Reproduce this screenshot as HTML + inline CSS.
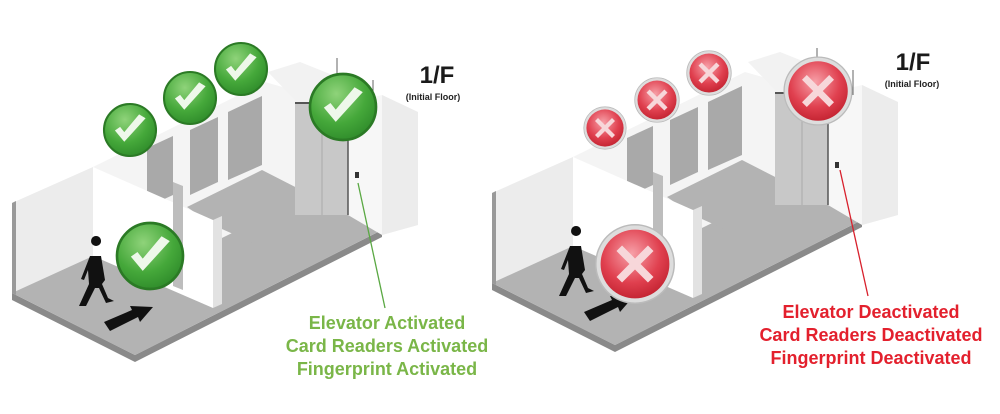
<!DOCTYPE html>
<html><head><meta charset="utf-8"><style>
html,body{margin:0;padding:0;background:#fff;}
svg{display:block}
text{font-family:"Liberation Sans",sans-serif;font-weight:bold}
</style></head><body>
<svg width="1000" height="414" viewBox="0 0 1000 414" xmlns="http://www.w3.org/2000/svg">
<defs>
<radialGradient id="gg" cx="0.4" cy="0.3" r="0.75">
<stop offset="0" stop-color="#8fd37a"/><stop offset="0.6" stop-color="#45a83a"/><stop offset="1" stop-color="#2e8a2a"/></radialGradient>
<radialGradient id="rg" cx="0.45" cy="0.35" r="0.7">
<stop offset="0" stop-color="#f7a0a8"/><stop offset="0.6" stop-color="#e0404f"/><stop offset="1" stop-color="#c0202e"/></radialGradient>
<g id="scene">
 <polygon points="12,293 135,355 382,230 382,237 135,362 12,300" fill="#8a8a8a"/>
 <polygon points="12,293 135,355 382,230 300,190 180,200 12,215" fill="#b3b3b3"/>
 <polygon points="93,167 265,82 300,92 300,200 187,255 93,210" fill="#f4f4f4"/>
 <polygon points="147,148 173,136 173,195 147,207" fill="#a9a9a9"/>
 <polygon points="190,130 218,117 218,182 190,195" fill="#a9a9a9"/>
 <polygon points="228,112 262,96 262,165 228,180" fill="#a9a9a9"/>
 <polygon points="187,207 262,170 350,215 280,255 213,225" fill="#b3b3b3"/>
 <polygon points="12,203 93,167 93,256 12,293" fill="#ececec"/>
 <polygon points="12,203 16,201 16,295 12,293" fill="#999"/>
 <polygon points="93,167 213,220 213,308 93,256" fill="#fff"/>
 <polygon points="213,220 222,216 222,304 213,308" fill="#e2e2e2"/>
 <polygon points="173,182 183,186 183,290 173,286" fill="#bdbdbd"/>
 <polygon points="268,72 300,62 345,80 345,215 295,215 295,100" fill="#f2f2f2"/>
 <polygon points="295,103 348,103 348,215 295,215" fill="#c8c8c8"/>
 <line x1="322" y1="103" x2="322" y2="215" stroke="#aaa"/>
 <line x1="295" y1="103" x2="348" y2="103" stroke="#555" stroke-width="2"/>
 <polygon points="348,103 382,95 418,112 418,225 382,235 348,215" fill="#f7f7f7"/>
 <polygon points="382,95 418,112 418,225 382,235" fill="#ececec"/>
 <line x1="348" y1="103" x2="348" y2="215" stroke="#555" stroke-width="1.5"/>
 <line x1="337" y1="58" x2="337" y2="78" stroke="#666"/>
 <line x1="373" y1="80" x2="373" y2="105" stroke="#666"/>
 <rect x="355" y="172" width="4" height="6" fill="#333"/>
 <path d="M96,246 a5,5 0 1,1 0.1,0 M90,256 l11,0 l4,24 l-3,4 l6,14 l6,3 l-8,2 l-7,-15 l-4,0 l-9,18 l-7,0 l10,-22 l-1,-14 l-4,10 l-3,-1 z" fill="#111"/>
 <polygon points="104,322 132,310 130,306 153,307 140,322 138,317 110,331" fill="#111"/>
</g>
<g id="chk">
 <circle r="1" fill="url(#gg)" stroke="#2b7a25" stroke-width="0.08"/>
 <path d="M-0.58,0.02 L-0.22,0.45 L0.6,-0.45 L0.35,-0.6 L-0.22,0.08 L-0.38,-0.12 Z" fill="#eef8ea"/>
</g>
<g id="xx">
 <circle r="1.06" fill="#ddd" stroke="#bbb" stroke-width="0.04"/>
 <circle r="0.93" fill="url(#rg)"/>
 <path d="M-0.5,-0.35 L-0.35,-0.5 L0,-0.15 L0.35,-0.5 L0.5,-0.35 L0.15,0 L0.5,0.35 L0.35,0.5 L0,0.15 L-0.35,0.5 L-0.5,0.35 L-0.15,0 Z" fill="#f7d7da"/>
</g>
</defs>

<use href="#scene"/>
<use href="#scene" transform="translate(480,-10)"/>

<use href="#chk" transform="translate(130,130) scale(26)"/>
<use href="#chk" transform="translate(190,98) scale(26)"/>
<use href="#chk" transform="translate(241,69) scale(26)"/>
<use href="#chk" transform="translate(343,107) scale(33)"/>
<use href="#chk" transform="translate(150,256) scale(33)"/>

<use href="#xx" transform="translate(605,128) scale(20)"/>
<use href="#xx" transform="translate(657,100) scale(21)"/>
<use href="#xx" transform="translate(709,73) scale(21)"/>
<use href="#xx" transform="translate(818,91) scale(32)"/>
<use href="#xx" transform="translate(635,264) scale(37)"/>

<line x1="358" y1="183" x2="385" y2="308" stroke="#5aa843" stroke-width="1.3"/>
<line x1="840" y1="170" x2="868" y2="296" stroke="#d8202c" stroke-width="1.3"/>

<text x="437" y="83" font-size="24" text-anchor="middle" fill="#1a1a1a">1/F</text>
<text x="433" y="100" font-size="9" text-anchor="middle" fill="#222">(Initial Floor)</text>
<text x="913" y="70" font-size="24" text-anchor="middle" fill="#1a1a1a">1/F</text>
<text x="912" y="87" font-size="9" text-anchor="middle" fill="#222">(Initial Floor)</text>

<g fill="#7ab648" font-size="18" text-anchor="middle">
<text x="387" y="329">Elevator Activated</text>
<text x="387" y="352">Card Readers Activated</text>
<text x="387" y="375">Fingerprint Activated</text>
</g>
<g fill="#e3202d" font-size="18" text-anchor="middle">
<text x="871" y="318">Elevator Deactivated</text>
<text x="871" y="341">Card Readers Deactivated</text>
<text x="871" y="364">Fingerprint Deactivated</text>
</g>
</svg>
</body></html>
